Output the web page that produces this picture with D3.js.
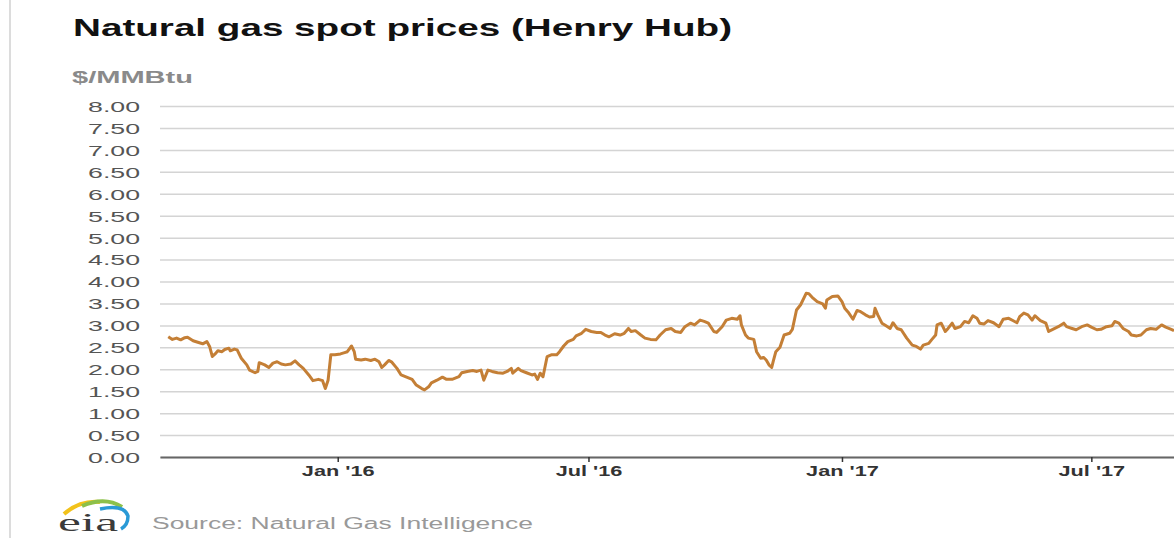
<!DOCTYPE html>
<html>
<head>
<meta charset="utf-8">
<script src="https://cdn.jsdelivr.net/npm/d3@7"></script>
<style>
  body { margin: 0; background: #fff; }
  text { font-family: "Liberation Sans", Arial, sans-serif; }
</style>
</head>
<body>
<div id="chart"></div>
<script>

// price data ($/MMBtu)
var dates = [
  "2015-08-31","2015-09-03","2015-09-06","2015-09-09","2015-09-12","2015-09-14","2015-09-18","2015-09-22",
  "2015-09-25","2015-09-28","2015-09-30","2015-10-02","2015-10-04","2015-10-06","2015-10-09","2015-10-11",
  "2015-10-14","2015-10-15","2015-10-18","2015-10-20","2015-10-23","2015-10-27","2015-10-29","2015-11-02",
  "2015-11-04","2015-11-05","2015-11-09","2015-11-12","2015-11-15","2015-11-18","2015-11-21","2015-11-24",
  "2015-11-28","2015-12-01","2015-12-04","2015-12-07","2015-12-11","2015-12-14","2015-12-18","2015-12-21",
  "2015-12-23","2015-12-25","2015-12-27","2015-12-30","2016-01-03","2016-01-06","2016-01-08","2016-01-11",
  "2016-01-13","2016-01-14","2016-01-18","2016-01-21","2016-01-25","2016-01-28","2016-01-31","2016-02-02",
  "2016-02-04","2016-02-07","2016-02-09","2016-02-13","2016-02-16","2016-02-20","2016-02-24","2016-02-27",
  "2016-03-02","2016-03-04","2016-03-07","2016-03-09","2016-03-13","2016-03-17","2016-03-20","2016-03-24",
  "2016-03-29","2016-03-31","2016-04-04","2016-04-08","2016-04-11","2016-04-14","2016-04-16","2016-04-19",
  "2016-04-22","2016-04-26","2016-04-30","2016-05-03","2016-05-06","2016-05-07","2016-05-11","2016-05-13",
  "2016-05-17","2016-05-21","2016-05-23","2016-05-25","2016-05-27","2016-05-29","2016-06-01","2016-06-04",
  "2016-06-08","2016-06-10","2016-06-13","2016-06-16","2016-06-20","2016-06-22","2016-06-26","2016-06-29",
  "2016-07-03","2016-07-07","2016-07-10","2016-07-13","2016-07-16","2016-07-20","2016-07-24","2016-07-27",
  "2016-07-30","2016-08-01","2016-08-04","2016-08-08","2016-08-11","2016-08-15","2016-08-19","2016-08-22",
  "2016-08-26","2016-08-30","2016-09-02","2016-09-06","2016-09-09","2016-09-13","2016-09-16","2016-09-20",
  "2016-09-23","2016-09-26","2016-09-30","2016-10-02","2016-10-06","2016-10-09","2016-10-13","2016-10-17",
  "2016-10-19","2016-10-20","2016-10-23","2016-10-25","2016-10-29","2016-10-31","2016-11-03","2016-11-05",
  "2016-11-07","2016-11-09","2016-11-11","2016-11-12","2016-11-14","2016-11-17","2016-11-20","2016-11-24",
  "2016-11-26","2016-11-29","2016-12-02","2016-12-06","2016-12-08","2016-12-11","2016-12-14","2016-12-18",
  "2016-12-20","2016-12-21","2016-12-25","2016-12-29","2017-01-01","2017-01-03","2017-01-06","2017-01-09",
  "2017-01-12","2017-01-14","2017-01-18","2017-01-21","2017-01-24","2017-01-25","2017-01-27","2017-01-30",
  "2017-02-02","2017-02-05","2017-02-07","2017-02-10","2017-02-13","2017-02-17","2017-02-21","2017-02-24",
  "2017-02-27","2017-03-01","2017-03-05","2017-03-07","2017-03-10","2017-03-11","2017-03-14","2017-03-17",
  "2017-03-19","2017-03-22","2017-03-24","2017-03-28","2017-03-31","2017-04-03","2017-04-06","2017-04-09",
  "2017-04-11","2017-04-14","2017-04-17","2017-04-21","2017-04-25","2017-04-28","2017-05-02","2017-05-05",
  "2017-05-08","2017-05-10","2017-05-13","2017-05-16","2017-05-19","2017-05-21","2017-05-25","2017-05-29",
  "2017-05-31","2017-06-03","2017-06-07","2017-06-11","2017-06-13","2017-06-17","2017-06-20","2017-06-24",
  "2017-06-28","2017-07-01","2017-07-05","2017-07-08","2017-07-12","2017-07-16","2017-07-18","2017-07-21",
  "2017-07-24","2017-07-28","2017-07-30","2017-08-03","2017-08-06","2017-08-10","2017-08-13","2017-08-17",
  "2017-08-21","2017-08-24","2017-08-28","2017-08-30"
];

var prices = [
  2.74,2.68,2.71,2.67,2.72,2.73,2.65,2.61,
  2.58,2.63,2.52,2.29,2.35,2.42,2.40,2.45,
  2.48,2.42,2.46,2.44,2.25,2.10,1.98,1.92,
  1.95,2.15,2.10,2.04,2.14,2.17,2.12,2.10,
  2.12,2.19,2.10,2.02,1.87,1.74,1.77,1.74,
  1.56,1.75,2.33,2.33,2.35,2.38,2.40,2.53,
  2.40,2.23,2.21,2.23,2.20,2.23,2.17,2.04,
  2.10,2.20,2.17,2.02,1.87,1.82,1.77,1.64,
  1.56,1.53,1.60,1.69,1.75,1.82,1.77,1.77,
  1.83,1.92,1.95,1.97,1.95,1.98,1.75,1.98,
  1.95,1.92,1.91,1.95,2.02,1.91,2.02,1.97,
  1.92,1.87,1.89,1.77,1.91,1.83,2.29,2.33,
  2.33,2.40,2.53,2.63,2.68,2.76,2.82,2.91,
  2.86,2.84,2.84,2.78,2.74,2.81,2.78,2.82,
  2.93,2.86,2.88,2.78,2.71,2.68,2.67,2.78,
  2.90,2.93,2.86,2.84,2.97,3.05,3.01,3.12,
  3.09,3.05,2.86,2.84,2.97,3.12,3.16,3.14,
  3.22,3.01,2.78,2.71,2.68,2.40,2.25,2.27,
  2.21,2.10,2.04,2.17,2.40,2.50,2.78,2.82,
  2.91,3.35,3.47,3.73,3.72,3.62,3.54,3.49,
  3.39,3.58,3.66,3.67,3.54,3.39,3.28,3.14,
  3.34,3.32,3.24,3.19,3.20,3.39,3.24,3.05,
  2.99,2.93,3.06,2.93,2.90,2.71,2.55,2.52,
  2.46,2.55,2.59,2.67,2.78,3.01,3.05,2.86,
  2.93,3.05,2.93,2.97,3.09,3.06,3.22,3.16,
  3.05,3.03,3.11,3.06,2.97,3.14,3.16,3.11,
  3.06,3.20,3.28,3.24,3.12,3.22,3.11,3.05,
  2.86,2.91,2.97,3.05,2.97,2.93,2.90,2.97,
  3.01,2.96,2.90,2.91,2.97,2.99,3.09,3.05,
  2.93,2.86,2.78,2.76,2.78,2.90,2.93,2.91,
  3.01,2.96,2.91,2.88
];

var yTicks = [0, 0.5, 1, 1.5, 2, 2.5, 3, 3.5, 4, 4.5, 5, 5.5, 6, 6.5, 7, 7.5, 8];
var xTickDates = ["2016-01-01", "2016-07-01", "2017-01-01", "2017-07-01"];
var xTickLabels = ["Jan '16", "Jul '16", "Jan '17", "Jul '17"];

var parse = d3.timeParse("%Y-%m-%d");
var table = dates.map(function(d, i) { return {date: parse(d), price: prices[i]}; });

var W = 1174, H = 538;
var plot = {left: 160, right: 1174, top: 106, bottom: 457};

var svg = d3.select("#chart")
  .append("svg")
    .attr("width", W)
    .attr("height", H);

// stretch text horizontally (the original picture is widened)
function stretch(sel, k) {
  sel.each(function() {
    var w = this.getComputedTextLength();
    d3.select(this)
      .attr("textLength", w * k)
      .attr("lengthAdjust", "spacingAndGlyphs");
  });
}

// left border
svg.append("line")
  .attr("x1", 10).attr("x2", 10)
  .attr("y1", 0).attr("y2", H)
  .attr("stroke", "#dcdcdc")
  .attr("stroke-width", 2);

// scales
var x = d3.scaleTime()
  .domain([parse("2015-08-25"), parse("2017-08-30")])
  .range([plot.left, plot.right]);

var y = d3.scaleLinear()
  .domain([0, 8])
  .range([plot.bottom, plot.top]);

// gridlines + y labels
var yAxis = svg.append("g")
  .attr("transform", "translate(" + plot.left + ",0)")
  .call(d3.axisLeft(y)
    .tickValues(yTicks)
    .tickFormat(d3.format(".2f"))
    .tickSizeInner(-(plot.right - plot.left))
    .tickSizeOuter(0)
    .tickPadding(20));
yAxis.select(".domain").remove();
yAxis.selectAll(".tick line")
  .attr("stroke", "#d4d4d4")
  .attr("stroke-width", 1.5);
yAxis.selectAll(".tick text")
  .attr("fill", "#555")
  .style("font-size", "15px")
  .attr("dy", "0.36em");
stretch(yAxis.selectAll(".tick text"), 1.78);

// x axis
var xAxis = svg.append("g")
  .attr("transform", "translate(0," + plot.bottom + ")")
  .call(d3.axisBottom(x)
    .tickValues(xTickDates.map(parse))
    .tickFormat(function(d, i) { return xTickLabels[i]; })
    .tickSizeInner(5)
    .tickSizeOuter(0)
    .tickPadding(4));
xAxis.select(".domain")
  .attr("stroke", "#666")
  .attr("stroke-width", 2);
xAxis.selectAll(".tick line")
  .attr("stroke", "#333")
  .attr("stroke-width", 1.5);
xAxis.selectAll(".tick text")
  .attr("fill", "#333")
  .style("font-size", "14px")
  .style("font-weight", "bold");
stretch(xAxis.selectAll(".tick text"), 1.55);

// the price line
var line = d3.line()
  .x(function(d) { return x(d.date); })
  .y(function(d) { return y(d.price); });

svg.append("path")
  .datum(table)
  .attr("fill", "none")
  .attr("stroke", "#c47f36")
  .attr("stroke-width", 3)
  .attr("stroke-linejoin", "round")
  .attr("d", line);

// title
var title = svg.append("text")
  .attr("x", 73)
  .attr("y", 36)
  .attr("fill", "#111")
  .style("font-size", "24px")
  .style("font-weight", "bold")
  .text("Natural gas spot prices (Henry Hub)");
title.attr("textLength", 659).attr("lengthAdjust", "spacingAndGlyphs");

// unit label
svg.append("text")
  .attr("x", 72)
  .attr("y", 83)
  .attr("fill", "#8a8a8a")
  .style("font-size", "16px")
  .style("font-weight", "bold")
  .attr("textLength", 121)
  .attr("lengthAdjust", "spacingAndGlyphs")
  .text("$/MMBtu");

// source
svg.append("text")
  .attr("x", 152)
  .attr("y", 529)
  .attr("fill", "#999")
  .style("font-size", "16px")
  .attr("textLength", 381)
  .attr("lengthAdjust", "spacingAndGlyphs")
  .text("Source: Natural Gas Intelligence");

// eia logo
var logo = svg.append("g");
logo.append("path")
  .attr("d", "M64,514 Q80,500 100,502")
  .attr("fill", "none").attr("stroke", "#f2c21b").attr("stroke-width", 4);
logo.append("path")
  .attr("d", "M82,506 Q105,496 122,507")
  .attr("fill", "none").attr("stroke", "#8cc04a").attr("stroke-width", 4);
logo.append("path")
  .attr("d", "M100,509 Q124,504 128,516 Q128,525 121,529")
  .attr("fill", "none").attr("stroke", "#2a9ad6").attr("stroke-width", 3.5);
logo.append("text")
  .attr("x", 58)
  .attr("y", 531)
  .attr("fill", "#3a3a3a")
  .style("font-family", "'Liberation Serif', 'DejaVu Serif', serif")
  .style("font-size", "25px")
  .attr("textLength", 60)
  .attr("lengthAdjust", "spacingAndGlyphs")
  .text("eia");

</script>
</body>
</html>
